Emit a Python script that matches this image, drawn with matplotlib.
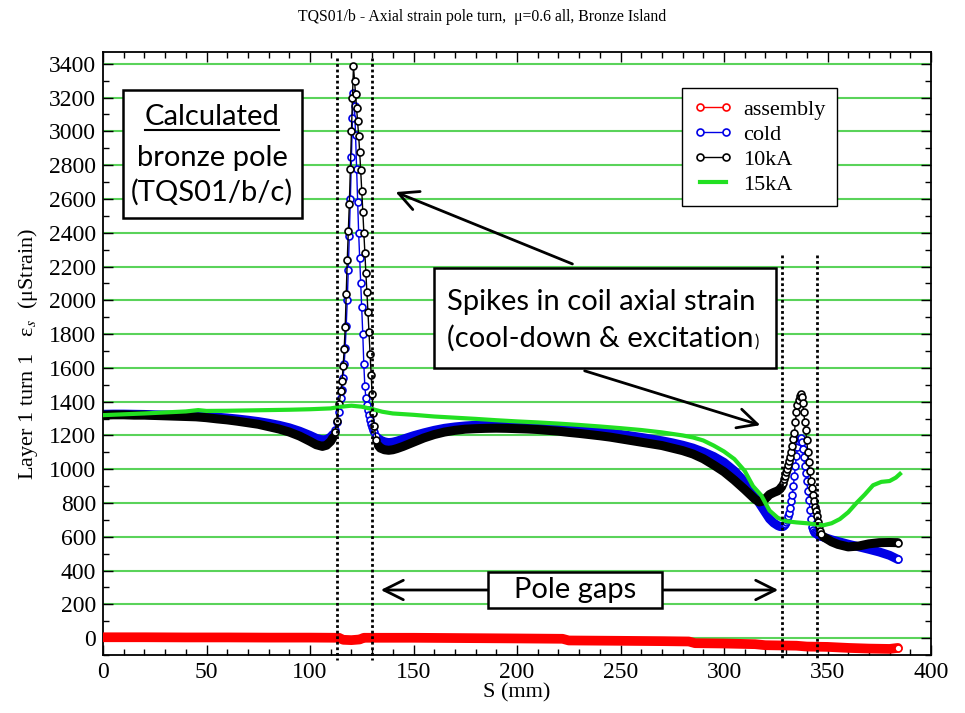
import numpy as np
import matplotlib
matplotlib.use("Agg")
import matplotlib.pyplot as plt
import matplotlib.transforms as mtransforms
from matplotlib.lines import Line2D
from matplotlib.patches import Rectangle, FancyArrowPatch

plt.rcParams['font.family'] = ['Liberation Serif', 'DejaVu Serif']
plt.rcParams['mathtext.fontset'] = 'stix'

# position along the turn (mm) for the cold / 10kA runs
s_mm = [0, 5, 10, 15, 20, 25, 30, 35, 40, 45, 50, 55, 60, 65, 70, 75, 80, 85, 90, 95, 100,
        103, 106, 108, 110,
        111, 112, 113, 114, 115,
        115.5, 116, 116.5, 117, 117.5, 118, 118.5, 119, 119.5, 120,
        120.5, 121, 121.5, 122, 122.5, 123, 123.5, 124, 124.5, 125,
        125.5, 126, 126.5, 127, 127.5, 128, 128.5, 129, 129.5, 130,
        130.5, 131,
        132, 133, 134, 136, 138, 140, 142, 145,
        150, 155, 160, 165, 170, 175, 180, 185, 190, 195,
        200, 205, 210, 215, 220, 225, 230, 235, 240, 245,
        250, 255, 260, 265, 270, 275, 280, 285, 290, 295,
        300, 305, 310, 315,
        317, 319, 320, 322, 324, 326, 327, 328,
        328.5, 329, 329.5, 330, 330.5, 331, 331.5, 332, 332.5, 333,
        333.5, 334, 334.5, 335, 335.5, 336, 336.5, 337, 337.5, 338,
        338.5, 339, 339.5, 340, 340.5, 341, 341.5, 342, 342.5, 343,
        343.5, 344, 344.5, 345, 345.5, 346, 346.5, 347,
        348, 350, 352, 355, 360, 365, 370, 375, 380, 384]

cold = [1325, 1326, 1326, 1325, 1324, 1322, 1321, 1320, 1318, 1316, 1313, 1308, 1303, 1297, 1290,
        1282, 1272, 1260, 1245, 1225, 1200,
        1183, 1173, 1176, 1190,
        1205, 1232, 1280, 1340, 1420,
        1470, 1540, 1620, 1720, 1850, 2000, 2180, 2380, 2600, 2850,
        3080, 3230, 3150, 2980, 2780, 2580, 2400, 2250, 2100, 1960,
        1800, 1620, 1490, 1420, 1380, 1350, 1320, 1292, 1270, 1250,
        1235, 1222,
        1198, 1182, 1172, 1162, 1157, 1160, 1166, 1178,
        1198, 1215, 1230, 1242, 1250, 1256, 1260, 1262, 1263, 1262,
        1260, 1257, 1254, 1250, 1245, 1240, 1234, 1228, 1221, 1214,
        1206, 1197, 1188, 1178, 1168, 1156, 1142, 1125, 1102, 1075,
        1040, 990, 925, 842,
        800, 762, 742, 706, 682, 666, 661, 660,
        662, 668, 675, 685, 700, 720, 742, 772, 810, 850,
        900, 960, 1020, 1080, 1130, 1165, 1180, 1186, 1160, 1120,
        1072, 1020, 980, 930, 870, 820, 760, 705, 660, 640,
        630, 624, 620, 615, 612, 608, 605, 602,
        598, 590, 582, 572, 556, 541, 526, 510, 490, 466]

ka10 = [1320, 1322, 1322, 1320, 1320, 1318, 1316, 1314, 1312, 1310, 1305, 1298, 1292, 1284, 1275,
        1266, 1252, 1238, 1220, 1196, 1165,
        1145, 1135, 1142, 1165,
        1185, 1220, 1285, 1385, 1465,
        1520, 1610, 1710, 1840, 2040, 2240, 2410, 2570, 2780, 3000,
        3200, 3385, 3300, 3220, 3140, 3060, 2975, 2880, 2770, 2650,
        2525, 2400, 2280, 2160, 2050, 1930, 1810, 1680, 1560, 1445,
        1330, 1255,
        1170, 1140, 1125, 1115, 1112, 1115, 1122, 1135,
        1160, 1185, 1205, 1220, 1230, 1237, 1240, 1242, 1243, 1242,
        1240, 1238, 1235, 1230, 1225, 1218, 1212, 1205, 1198, 1190,
        1180, 1170, 1160, 1150, 1140, 1125, 1110, 1090, 1062, 1025,
        985, 935, 880, 822,
        806, 812, 825, 850, 862, 872, 882, 898,
        918, 940, 962, 985, 1002, 1025, 1048, 1072, 1102, 1140,
        1178, 1215, 1280, 1340, 1382, 1412, 1436, 1445, 1428, 1390,
        1340, 1282, 1230, 1170, 1102, 1040, 988, 932, 890, 850,
        812, 778, 752, 720, 690, 662, 636, 616,
        600, 585, 570, 555, 540, 545, 558, 565, 566, 565]

s_15 = [0, 10, 20, 30, 40, 46, 50, 60, 70, 80, 90, 100, 110, 115, 120, 125, 130, 135, 140, 150,
        160, 170, 180, 190, 200, 210, 220, 230, 240, 250, 260, 270, 280, 285, 290, 295, 300,
        305, 310, 314, 318, 322, 326, 330, 335, 340, 345, 348, 352, 356, 360, 364, 368, 372,
        376, 380, 383, 385]
ka15 = [1320, 1325, 1330, 1336, 1342, 1350, 1345, 1346, 1348, 1350, 1352, 1355, 1360, 1370, 1376,
        1370, 1356, 1340, 1330, 1322, 1312, 1305, 1298, 1290, 1283, 1277, 1270, 1262, 1253,
        1243, 1232, 1218, 1200, 1188, 1170, 1140, 1105, 1060, 990, 900, 845, 755, 712, 692,
        685, 680, 672, 668, 680, 705, 745, 800, 850, 905, 925, 930, 950, 972]

s_asm = [0, 20, 40, 60, 80, 100, 114, 116, 120, 124, 126, 150, 175, 200, 222, 225, 250, 270,
         283, 286, 300, 315, 320, 335, 340, 350, 360, 370, 380, 384]
assembly = [5, 5, 4, 4, 3, 3, 2, -10, -12, -8, 2, 2, 0, -2, -4, -14, -16, -18, -20, -30,
            -32, -36, -42, -45, -50, -52, -58, -62, -64, -58]

pole_edges = [113, 130, 328, 345]
y_ticks = list(range(0, 3401, 200))
x_ticks = list(range(0, 401, 50))

W, H = 965, 713


def fx(px):
    return px / W


def fy(py):
    return 1 - py / H


fig = plt.figure(figsize=(W / 100, H / 100), dpi=100)
ax = fig.add_axes([fx(103), fy(655), (931 - 103) / W, (655 - 52) / H])

for y in y_ticks:
    ax.axhline(y, color='#5ad35a', lw=1.5, zorder=0)


def strain_curve(s, e, color, z):
    s = np.asarray(s, dtype=float)
    e = np.asarray(e, dtype=float)
    spike = ((s > 111) & (s < 133)) | ((s > 328) & (s < 347.5))
    ax.plot(s, e, '-', color=color, lw=1, zorder=z)
    ax.plot(s, np.where(spike, np.nan, e), '-', color=color, lw=6.5,
            solid_capstyle='round', zorder=z)
    ax.plot(s[spike], e[spike], 'o', ms=5, mfc='white', mec=color, mew=1.2, zorder=z)
    ax.plot(s[-1:], e[-1:], 'o', ms=5, mfc='white', mec=color, mew=1.2, zorder=z)


strain_curve(s_mm, cold, '#0000e6', 2)
strain_curve(s_mm, ka10, 'black', 3)
ax.plot(s_15, ka15, '-', color='#22e022', lw=3, zorder=4)
ax.plot(s_asm, assembly, '-', color='#ff0000', lw=7, solid_capstyle='round', zorder=4)
ax.plot(s_asm[-1:], assembly[-1:], 'o', ms=5, mfc='white', mec='#ff0000', mew=1.2, zorder=5)

ax.set_xlim(0, 400)
ax.set_ylim(-100, 3470)
ax.set_xticks(x_ticks)
ax.set_yticks(y_ticks)
ax.set_xticks(range(0, 401, 10), minor=True)
ax.set_yticks(range(-100, 3470, 100), minor=True)
ax.tick_params(which='both', direction='in', top=True, right=True, width=1, labelsize=17)
ax.tick_params(which='major', length=7, pad=5)
ax.tick_params(which='minor', length=4)
for sp in ax.spines.values():
    sp.set_linewidth(1.3)

ax.set_xlabel('S (mm)', fontsize=16, labelpad=0)
ax.set_ylabel('Layer 1 turn 1   ε$_{s}$  (μStrain)', fontsize=16, labelpad=6)
fig.text(0.5, fy(17), 'TQS01/b - Axial strain pole turn,  μ=0.6 all, Bronze Island',
         ha='center', va='center', fontsize=11.3)

handles = [
    Line2D([], [], color='#ff0000', lw=1, marker='o', ms=5, mfc='white', mew=1.2),
    Line2D([], [], color='#0000e6', lw=1, marker='o', ms=5, mfc='white', mew=1.2),
    Line2D([], [], color='black', lw=1, marker='o', ms=5, mfc='white', mew=1.2),
    Line2D([], [], color='#22e022', lw=3),
]
leg = ax.legend(handles, ['assembly', 'cold', '10kA', '15kA'], loc='upper left',
                bbox_to_anchor=(fx(682), fy(88)), bbox_transform=fig.transFigure,
                borderaxespad=0, numpoints=2, fontsize=16, fancybox=False,
                framealpha=1, edgecolor='black', handlelength=1.8, handletextpad=0.45,
                labelspacing=0.2, borderpad=0.5)
leg.get_frame().set_linewidth(1)
leg.set_zorder(10)

# dotted markers at the pole gap edges
blend = mtransforms.blended_transform_factory(ax.transData, fig.transFigure)
for s, top in zip(pole_edges, [58, 58, 255, 255]):
    ax.plot([s, s], [fy(top), fy(660)], transform=blend, color='black', lw=2,
            ls=(0, (1, 1)), clip_on=False, zorder=6)


def box(x0, y0, x1, y1):
    fig.patches.append(Rectangle((fx(x0), fy(y1)), fx(x1) - fx(x0), fy(y0) - fy(y1),
                                 transform=fig.transFigure, facecolor='white',
                                 edgecolor='black', lw=1.8, zorder=20))


def arrow(p0, p1, style):
    fig.patches.append(FancyArrowPatch((fx(p0[0]), fy(p0[1])), (fx(p1[0]), fy(p1[1])),
                                       transform=fig.transFigure, arrowstyle=style,
                                       mutation_scale=35, lw=2, color='black', zorder=19))


sans = ['Lato', 'DejaVu Sans']
arrow((575, 265), (393, 191), '->')
arrow((582, 370), (763, 426), '->')
arrow((378, 590), (781, 590), '<->')

box(123, 90, 302, 218)
box(434, 268, 776, 368)
box(488, 572, 662, 608)

fs = 21
t_calc = fig.text(fx(212), fy(125), 'Calculated', ha='center', va='baseline',
                  fontsize=fs, family=sans, zorder=21)
fig.text(fx(212), fy(166), 'bronze pole', ha='center', va='baseline',
         fontsize=fs, family=sans, zorder=21)
fig.text(fx(212), fy(201), '(TQS01/b/c)', ha='center', va='baseline',
         fontsize=fs, family=sans, zorder=21)
fig.text(fx(447), fy(310), 'Spikes in coil axial strain', ha='left', va='baseline',
         fontsize=fs, family=sans, zorder=21)
t_cool = fig.text(fx(447), fy(347), '(cool-down & excitation', ha='left', va='baseline',
                  fontsize=fs, family=sans, zorder=21)
fig.text(fx(575), fy(590), 'Pole gaps', ha='center', va='center',
         fontsize=fs, family=sans, zorder=21)

fig.canvas.draw()
r = fig.canvas.get_renderer()
bb = t_calc.get_window_extent(r)
fig.lines.append(Line2D([bb.x0 / W, bb.x1 / W], [fy(130), fy(130)],
                        transform=fig.transFigure, color='black', lw=1.5, zorder=21))
bb = t_cool.get_window_extent(r)
fig.text(bb.x1 / W + 0.001, fy(347), ')', ha='left', va='baseline', fontsize=12,
         family=sans, zorder=21)

fig.savefig('out.png', dpi=100)
